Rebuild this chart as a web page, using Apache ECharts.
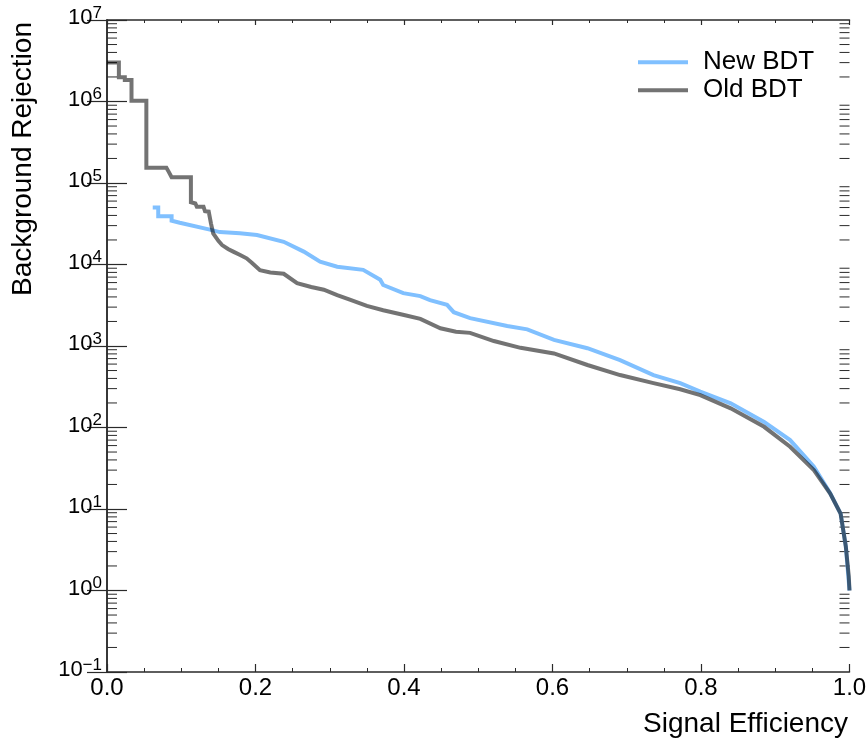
<!DOCTYPE html>
<html>
<head>
<meta charset="utf-8">
<script src="https://cdn.jsdelivr.net/npm/echarts@6/dist/echarts.min.js"></script>
<style>
  html, body { margin: 0; padding: 0; background: #fff; }
  #chart { width: 868px; height: 741px; }
</style>
</head>
<body>
<div id="chart"></div>
<script>
// ---- Data (Signal Efficiency vs Background Rejection) ----
const seriesNames = ['New BDT', 'Old BDT'];

const newX = [0.0616, 0.069, 0.069, 0.087, 0.087, 0.098, 0.137, 0.152, 0.179, 0.202,
              0.238, 0.265, 0.287, 0.310, 0.345, 0.368, 0.372, 0.399, 0.422, 0.435,
              0.458, 0.467, 0.489, 0.539, 0.566, 0.602, 0.647, 0.691, 0.736, 0.772,
              0.799, 0.840, 0.885, 0.920, 0.952, 0.974, 0.988, 0.995, 0.999, 1.000];
const newY = [5.0e4, 5.0e4, 3.9e4, 3.9e4, 3.45e4, 3.25e4, 2.7e4, 2.5e4, 2.42e4, 2.3e4,
              1.9e4, 1.44e4, 1.08e4, 9.4e3, 8.6e3, 6.5e3, 5.6e3, 4.45e3, 4.1e3, 3.65e3,
              3.2e3, 2.6e3, 2.2e3, 1.76e3, 1.6e3, 1.19e3, 9.4e2, 6.7e2, 4.4e2, 3.5e2,
              2.75e2, 1.98e2, 1.17e2, 70, 33, 15.6, 8.8, 3.5, 1.3, 1.0];

const oldX = [0.000, 0.016, 0.016, 0.024, 0.024, 0.033, 0.033, 0.053, 0.053, 0.080,
              0.083, 0.087, 0.113, 0.113, 0.119, 0.121, 0.130, 0.132, 0.137, 0.140,
              0.143, 0.150, 0.155, 0.163, 0.170, 0.180, 0.188, 0.195, 0.206, 0.220,
              0.238, 0.256, 0.275, 0.292, 0.310, 0.327, 0.350, 0.372, 0.400, 0.422,
              0.449, 0.470, 0.489, 0.521, 0.557, 0.602, 0.647, 0.691, 0.736, 0.772,
              0.799, 0.840, 0.885, 0.920, 0.952, 0.974, 0.988, 0.995, 0.999, 1.000];
const oldY = [3.0e6, 3.0e6, 1.98e6, 1.98e6, 1.84e6, 1.84e6, 1.02e6, 1.02e6, 1.54e5, 1.54e5,
              1.38e5, 1.18e5, 1.18e5, 5.8e4, 5.6e4, 5.1e4, 5.1e4, 4.5e4, 4.45e4, 3.2e4,
              2.4e4, 1.95e4, 1.73e4, 1.55e4, 1.44e4, 1.3e4, 1.19e4, 1.05e4, 8.5e3, 8.0e3,
              7.7e3, 5.9e3, 5.3e3, 4.9e3, 4.2e3, 3.7e3, 3.1e3, 2.75e3, 2.4e3, 2.15e3,
              1.65e3, 1.5e3, 1.45e3, 1.15e3, 9.5e2, 8.1e2, 5.85e2, 4.4e2, 3.5e2, 2.95e2,
              2.5e2, 1.72e2, 1.02e2, 58, 30, 15.5, 8.8, 3.5, 1.5, 1.0];

const xTicks = [0.0, 0.2, 0.4, 0.6, 0.8, 1.0];
const yTickExponents = [-1, 0, 1, 2, 3, 4, 5, 6, 7];
const yMinorMultipliers = [2, 3, 4, 5, 6, 7, 8, 9];

const xTitle = 'Signal Efficiency';
const yTitle = 'Background Rejection';

// ---- Build ----
function pairs(xs, ys) { return xs.map((x, i) => [x, ys[i]]); }

const FONT = '"Liberation Sans", Arial, Helvetica, sans-serif';
const AXIS_COLOR = '#2a2a2a';

const chart = echarts.init(document.getElementById('chart'), null, { renderer: 'canvas' });

const xMin = xTicks[0], xMax = xTicks[xTicks.length - 1];
const yMin = Math.pow(10, yTickExponents[0]);
const yMax = Math.pow(10, yTickExponents[yTickExponents.length - 1]);

// minor tick positions of the log axis: m x 10^e
const yMinorVals = [];
yTickExponents.slice(0, -1).forEach(e => {
  yMinorMultipliers.forEach(m => yMinorVals.push([xMin, m * Math.pow(10, e)]));
});

function supLabel(v) {
  const e = Math.round(Math.log10(v));
  const s = e < 0 ? '\u2212' + Math.abs(e) : String(e);
  return '{b|10}{s|' + s + '}';
}

const baseX = {
  type: 'value', min: xMin, max: xMax, interval: 0.2,
  axisLine: { show: true, lineStyle: { color: AXIS_COLOR, width: 1.5 } },
  splitLine: { show: false },
  nameMoveOverlap: false,
};
const baseY = {
  type: 'log', logBase: 10, min: yMin, max: yMax, splitNumber: 8,
  axisLine: { show: true, lineStyle: { color: AXIS_COLOR, width: 1.5 } },
  splitLine: { show: false },
  minorTick: { show: false },
  nameMoveOverlap: false,
};

const option = {
  backgroundColor: '#ffffff',
  animation: false,
  textStyle: { fontFamily: FONT },
  grid: { left: 107, right: 18.5, top: 20, bottom: 69, containLabel: false, outerBoundsMode: 'none' },
  legend: {
    orient: 'vertical',
    left: 638, top: 49.3, padding: 0,
    itemWidth: 50, itemHeight: 4, itemGap: 2,
    icon: 'rect',
    data: seriesNames,
    textStyle: { fontFamily: FONT, fontSize: 26, color: '#000', lineHeight: 26, padding: [0, 0, 0, 10] },
  },
  xAxis: [
    Object.assign({}, baseX, {
      position: 'bottom',
      name: xTitle, nameLocation: 'end', nameGap: -1.5,
      nameTextStyle: { fontFamily: FONT, fontSize: 28, lineHeight: 28, color: '#000', align: 'right', verticalAlign: 'top', padding: [38, 0, 0, 0] },
      axisTick: { show: true, inside: true, length: 8, lineStyle: { color: AXIS_COLOR, width: 1.2 } },
      minorTick: { show: true, splitNumber: 4, length: 4, lineStyle: { color: AXIS_COLOR, width: 1 } },
      axisLabel: { show: true, margin: 4, fontFamily: FONT, fontSize: 24, color: '#000',
                   formatter: v => v.toFixed(1) },
    }),
    Object.assign({}, baseX, {
      position: 'top',
      axisTick: { show: true, inside: true, length: 5, lineStyle: { color: AXIS_COLOR, width: 1.2 } },
      minorTick: { show: true, splitNumber: 4, length: 3, lineStyle: { color: AXIS_COLOR, width: 1 } },
      axisLabel: { show: false },
    }),
  ],
  yAxis: [
    Object.assign({}, baseY, {
      position: 'left',
      name: yTitle, nameLocation: 'end', nameGap: -2, nameRotate: 90,
      nameTextStyle: { fontFamily: FONT, fontSize: 28, lineHeight: 28, color: '#000', align: 'right', verticalAlign: 'bottom', padding: [0, 0, 70, 0] },
      axisTick: { show: true, inside: true, length: 20, lineStyle: { color: AXIS_COLOR, width: 1.2 } },
      axisLabel: {
        show: true, margin: 5, color: '#000',
        formatter: supLabel,
        rich: {
          b: { fontFamily: FONT, fontSize: 22, lineHeight: 24, color: '#000', padding: [0, 0, 4, 0], verticalAlign: 'middle' },
          s: { fontFamily: FONT, fontSize: 17, lineHeight: 17, color: '#000', padding: [0, 0, 14, 0], verticalAlign: 'middle' },
        },
      },
    }),
    Object.assign({}, baseY, {
      position: 'right',
      axisTick: { show: true, inside: true, length: 20, lineStyle: { color: AXIS_COLOR, width: 1.2 } },
      axisLabel: { show: false },
    }),
  ],
  series: [
    {
      name: seriesNames[0], type: 'line', xAxisIndex: 0, yAxisIndex: 0,
      data: pairs(newX, newY), symbol: 'none', showSymbol: false,
      lineStyle: { color: '#80c0ff', width: 4, join: 'miter' },
      itemStyle: { color: '#80c0ff' },
      z: 2,
    },
    {
      name: seriesNames[1], type: 'line', xAxisIndex: 0, yAxisIndex: 0,
      data: pairs(oldX, oldY), symbol: 'none', showSymbol: false,
      lineStyle: { color: 'rgba(0,0,0,0.55)', width: 4, join: 'miter' },
      itemStyle: { color: 'rgba(0,0,0,0.55)' },
      z: 3,
    },
    {
      name: 'yMinorTicks', type: 'custom', xAxisIndex: 0, yAxisIndex: 0,
      data: yMinorVals, silent: true, clip: false, z: 1,
      renderItem: function (params, api) {
        const v = api.value(1);
        const pL = api.coord([xMin, v]);
        const pR = api.coord([xMax, v]);
        const st = { stroke: AXIS_COLOR, lineWidth: 1 };
        return {
          type: 'group',
          children: [
            { type: 'line', shape: { x1: pL[0], y1: pL[1], x2: pL[0] + 10, y2: pL[1] }, style: st },
            { type: 'line', shape: { x1: pR[0] - 10, y1: pR[1], x2: pR[0], y2: pR[1] }, style: st },
          ],
        };
      },
    },
  ],
};

chart.setOption(option);
</script>
</body>
</html>
